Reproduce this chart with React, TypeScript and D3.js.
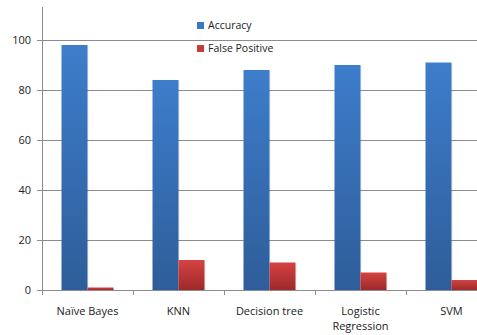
import {useEffect, useRef} from 'react';
import * as d3 from 'd3';

const categories = ['Naïve Bayes', 'KNN', 'Decision tree', 'Logistic Regression', 'SVM'];
const accuracy = [98, 84, 88, 90, 91];
const falsePositive = [1, 12, 11, 7, 4];
const yTicks = [0, 20, 40, 60, 80, 100];
const seriesNames = ['Accuracy', 'False Positive'];

function App(){
	const ref = useRef<SVGSVGElement>(null);

	useEffect(()=>{
		const svg = d3.select(ref.current);
		svg.selectAll('*').remove();

		const W = 477
			, left = 42, right = 497, top = 7, bottom = 290
			, font = 'Open Sans, sans-serif'
			;

		const y = d3.scaleLinear().domain([0, 100]).range([bottom, 40]);
		const x = d3.scaleBand().domain(categories).range([left, right]);
		const inner = d3.scaleBand().domain(seriesNames).range([19.5, x.bandwidth() - 19.5]);

		const defs = svg.append('defs');
		const grads = [['gBlue', '#3d7dcb', '#2e5d99'], ['gRed', '#d64242', '#9c2a2a']];
		grads.forEach(([id, c1, c2])=>{
			const g = defs.append('linearGradient').attr('id', id).attr('x1', 0).attr('y1', 0).attr('x2', 0).attr('y2', 1);
			g.append('stop').attr('offset', '0%').attr('stop-color', c1);
			g.append('stop').attr('offset', '100%').attr('stop-color', c2);
		});

		// grid lines
		svg.append('g').selectAll('line').data(yTicks.slice(1)).enter().append('line')
			.attr('x1', left - 5).attr('x2', W).attr('y1', d=>y(d)).attr('y2', d=>y(d))
			.attr('stroke', '#8c8c8c').attr('stroke-width', 1).attr('shape-rendering', 'crispEdges');

		// y axis
		svg.append('line').attr('x1', left).attr('x2', left).attr('y1', top).attr('y2', bottom + 5)
			.attr('stroke', '#8c8c8c').attr('shape-rendering', 'crispEdges');
		svg.append('line').attr('x1', left - 5).attr('x2', left).attr('y1', bottom).attr('y2', bottom)
			.attr('stroke', '#8c8c8c').attr('shape-rendering', 'crispEdges');
		svg.append('g').selectAll('text').data(yTicks).enter().append('text')
			.attr('x', left - 11).attr('y', d=>y(d)).attr('dy', '0.35em')
			.attr('text-anchor', 'end').attr('font-family', font).attr('font-size', 11).attr('fill', '#222')
			.text(d=>d);

		const gb = svg.append('g');
		// bars
		const groups = gb.selectAll('g').data(categories).enter().append('g')
			.attr('transform', d=>`translate(${x(d)},0)`);
		[accuracy, falsePositive].forEach((vals, si)=>{
			groups.append('rect')
				.attr('x', ()=>(inner(seriesNames[si]) as number) + 1)
				.attr('y', (d, i)=>y(vals[i]) + 1)
				.attr('width', inner.bandwidth())
				.attr('height', (d, i)=>bottom - y(vals[i]) - 1)
				.attr('fill', '#000').attr('opacity', 0.08);
			groups.append('rect')
				.attr('x', inner(seriesNames[si]) as number)
				.attr('y', (d, i)=>y(vals[i]))
				.attr('width', inner.bandwidth())
				.attr('height', (d, i)=>bottom - y(vals[i]))
				.attr('fill', si === 0 ? 'url(#gBlue)' : 'url(#gRed)');
		});

		// x axis
		svg.append('line').attr('x1', left).attr('x2', W).attr('y1', bottom).attr('y2', bottom)
			.attr('stroke', '#8c8c8c').attr('shape-rendering', 'crispEdges');
		svg.append('g').selectAll('line').data(categories).enter().append('line')
			.attr('x1', d=>(x(d) as number) + x.bandwidth()).attr('x2', d=>(x(d) as number) + x.bandwidth())
			.attr('y1', bottom).attr('y2', bottom + 5)
			.attr('stroke', '#8c8c8c').attr('shape-rendering', 'crispEdges');

		const labels = svg.append('g').selectAll('text').data(categories).enter().append('text')
			.attr('y', 314.5)
			.attr('text-anchor', 'middle').attr('font-family', font).attr('font-size', 11).attr('fill', '#222');
		labels.each(function(d){
			const words = d === 'Logistic Regression' ? ['Logistic', 'Regression'] : [d];
			d3.select(this).selectAll('tspan').data(words).enter().append('tspan')
				.attr('x', (x(d) as number) + x.bandwidth() / 2)
				.attr('dy', (w, i)=>i === 0 ? 0 : 15.5)
				.text(w=>w);
		});

		// legend
		const lg = svg.append('g').selectAll('g').data(seriesNames).enter().append('g')
			.attr('transform', (d, i)=>`translate(197,${22 + i * 23})`);
		lg.append('rect').attr('width', 7).attr('height', 7)
			.attr('fill', (d, i)=>i === 0 ? '#3a78c4' : '#c83a3a');
		lg.append('text').attr('x', 11).attr('y', 3.5).attr('dy', '0.35em')
			.attr('font-family', font).attr('font-size', 10.5).attr('fill', '#222')
			.text(d=>d);
	}, []);

	return (<svg ref={ref} width={477} height={335}
		style={{position: 'absolute', left: 0, top: 0, background: '#fff'}}></svg>);
}

export default App;
